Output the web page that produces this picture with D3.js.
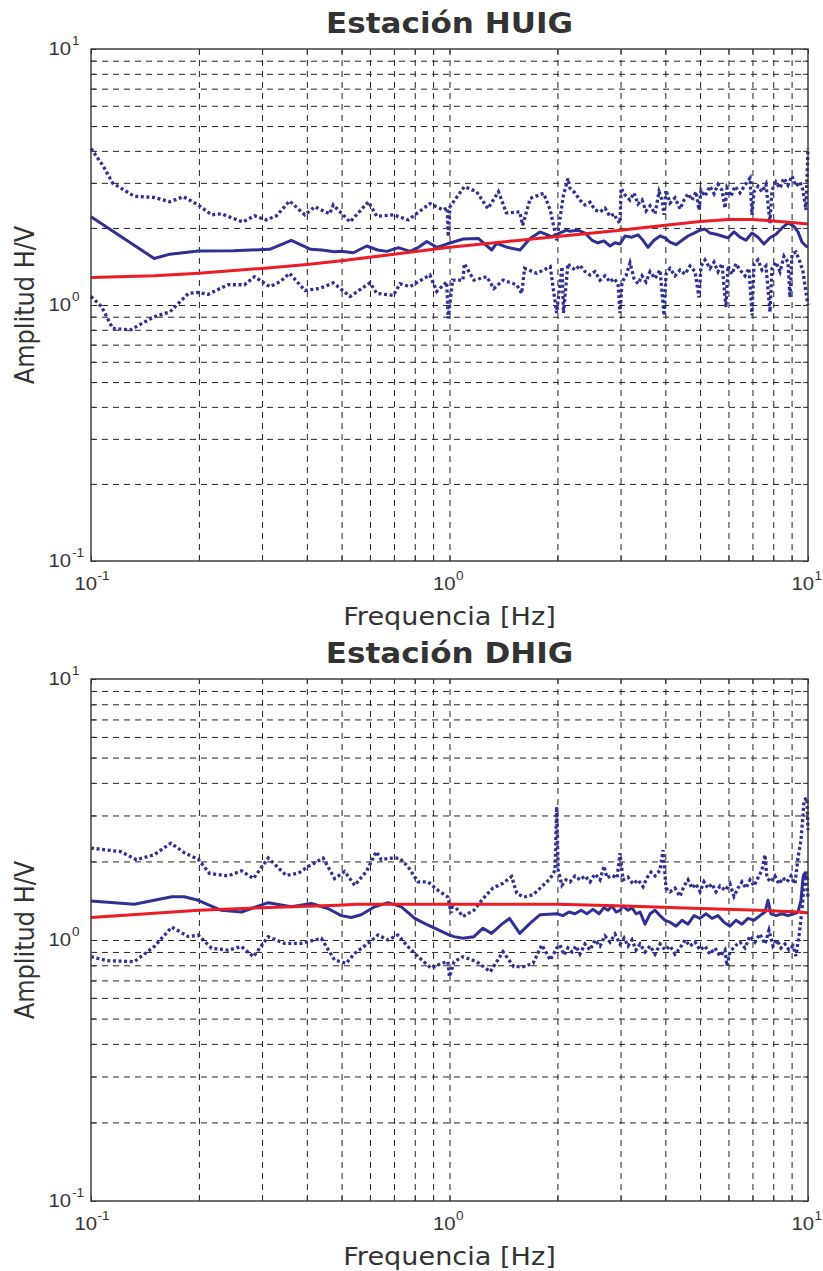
<!DOCTYPE html>
<html>
<head>
<meta charset="utf-8">
<script src="https://cdn.jsdelivr.net/npm/d3@7"></script>
<style>
  body { margin: 0; background: #fff; }
</style>
</head>
<body>
<svg id="chart" width="823" height="1271"></svg>
<script>
// ---- data: [frequency Hz, amplitude H/V] ----
const huigRef = [[0.1,1.28],[0.15,1.30],[0.2,1.33],[0.3,1.39],[0.4,1.44],[0.5,1.49],[0.7,1.58],[1,1.68],[1.5,1.78],[2,1.85],[3,1.96],[4,2.05],[5,2.12],[6,2.16],[7,2.16],[8,2.13],[9,2.10],[10,2.07]];

const huigMed = [[0.1,2.21],[0.15,1.52],[0.166,1.58],[0.199,1.625],[0.25,1.63],[0.315,1.65],[0.362,1.79],[0.41,1.65],[0.44,1.64],[0.478,1.615],[0.5,1.62],[0.539,1.60],[0.588,1.70],[0.63,1.64],[0.668,1.62],[0.72,1.675],[0.776,1.62],[0.82,1.68],[0.864,1.77],[0.921,1.68],[0.982,1.73],[1.093,1.81],[1.203,1.82],[1.311,1.64],[1.354,1.74],[1.45,1.68],[1.573,1.64],[1.677,1.82],[1.788,1.93],[1.928,1.85],[2.12,1.96],
  [2.168,1.94],[2.282,1.96],[2.387,1.91],[2.498,1.79],[2.596,1.75],[2.697,1.78],[2.804,1.70],[2.895,1.75],[2.99,1.73],[3.087,1.86],[3.229,1.84],[3.356,1.88],[3.466,1.79],[3.579,1.68],[3.72,1.79],[3.866,1.86],[3.992,1.83],[4.122,1.76],[4.284,1.72],[4.453,1.79],[4.628,1.86],[4.809,1.91],[4.997,1.96],[5.16,1.98],[5.329,1.91],[5.538,1.89],[5.755,1.86],[5.981,1.83],[6.217,1.93],[6.461,1.84],[6.714,1.79],[6.979,1.91],[7.253,1.84],[7.537,1.73],[7.834,1.83],[8.141,1.89],[8.461,2.0],[8.793,2.09],[9.139,2.03],[9.376,1.93],[9.622,1.76],[9.871,1.70],[10,1.68]];

const huigUp = [[0.1,4.09],[0.108,3.5],[0.115,2.99],[0.132,2.66],[0.15,2.63],[0.166,2.53],[0.181,2.65],[0.199,2.46],[0.217,2.25],[0.231,2.27],[0.265,2.11],[0.286,2.23],[0.308,2.15],[0.329,2.23],[0.358,2.55],[0.395,2.25],[0.421,2.42],[0.463,2.27],[0.474,2.46],[0.528,2.11],[0.594,2.53],[0.627,2.22],[0.697,2.25],[0.767,2.15],[0.882,2.49],[0.961,2.35],[0.985,2.4],[0.992,1.85],[1.003,2.42],[1.1,2.90],[1.19,2.77],[1.28,2.38],[1.37,2.77],[1.44,2.29],[1.57,2.31],[1.6,2.05],[1.68,2.61],[1.83,2.73],[1.91,2.35],[1.99,1.79],[2.08,2.69],[2.14,3.12],
  [2.168,2.86],[2.239,2.74],[2.312,2.57],[2.387,2.46],[2.466,2.52],[2.546,2.35],[2.629,2.31],[2.715,2.39],[2.804,2.22],[2.877,2.27],[2.933,2.15],[2.971,2.11],[2.99,2.09],[3.009,2.86],[3.087,2.69],[3.188,2.57],[3.271,2.74],[3.356,2.48],[3.444,2.57],[3.533,2.33],[3.626,2.44],[3.744,2.27],[3.842,2.77],[3.916,2.57],[3.967,2.25],[4.018,2.81],[4.122,2.50],[4.256,2.62],[4.396,2.37],[4.51,2.57],[4.628,2.72],[4.747,2.57],[4.871,2.77],[4.966,2.35],[5.029,2.81],[5.16,2.66],[5.329,2.91],[5.468,2.72],[5.61,2.96],[5.755,2.81],[5.867,2.39],[5.943,2.86],[6.098,2.66],[6.257,2.91],[6.461,2.74],[6.672,2.94],[6.89,3.13],[6.979,2.25],[7.069,2.77],[7.253,2.91],[7.441,2.77],[7.634,2.96],[7.834,2.09],[7.935,2.81],[8.141,3.02],[8.353,2.86],[8.57,3.13],[8.793,2.94],[9.022,3.19],[9.256,2.91],[9.499,3.02],[9.683,2.81],[9.871,2.35],[9.935,3.08],[10,4.09]];

const huigLo = [[0.1,1.08],[0.107,0.985],[0.115,0.81],[0.129,0.80],[0.15,0.90],[0.166,0.94],[0.187,1.11],[0.199,1.12],[0.212,1.10],[0.241,1.20],[0.268,1.20],[0.286,1.29],[0.315,1.18],[0.336,1.23],[0.358,1.33],[0.395,1.14],[0.434,1.16],[0.474,1.22],[0.528,1.08],[0.6,1.22],[0.627,1.11],[0.697,1.09],[0.728,1.21],[0.776,1.18],[0.882,1.31],[0.921,1.13],[0.982,1.23],[0.992,0.887],[1.02,1.25],[1.09,1.25],[1.1,1.45],[1.17,1.25],[1.27,1.29],[1.33,1.16],[1.41,1.25],[1.54,1.20],[1.59,1.11],[1.62,1.39],[1.75,1.33],[1.91,1.41],[1.99,0.93],[2.06,1.41],[2.08,0.93],[2.14,1.45],
  [2.168,1.42],[2.239,1.37],[2.312,1.43],[2.387,1.35],[2.466,1.31],[2.546,1.35],[2.629,1.25],[2.715,1.30],[2.804,1.23],[2.877,1.27],[2.952,1.21],[2.99,0.93],[3.029,1.23],[3.107,1.30],[3.188,1.46],[3.271,1.27],[3.356,1.21],[3.444,1.30],[3.533,1.23],[3.626,1.35],[3.744,1.27],[3.866,1.37],[3.967,0.91],[4.018,1.32],[4.122,1.39],[4.256,1.30],[4.396,1.37],[4.539,1.32],[4.687,1.42],[4.84,1.35],[4.966,1.07],[5.029,1.42],[5.16,1.50],[5.329,1.39],[5.468,1.47],[5.61,1.35],[5.755,1.45],[5.905,0.98],[5.981,1.42],[6.137,1.32],[6.297,1.45],[6.461,1.37],[6.672,1.30],[6.845,1.39],[6.979,0.91],[7.069,1.45],[7.253,1.50],[7.441,1.37],[7.634,1.42],[7.834,0.94],[7.935,1.39],[8.141,1.47],[8.353,1.35],[8.57,1.55],[8.793,1.47],[8.907,1.07],[9.022,1.58],[9.256,1.61],[9.499,1.47],[9.683,1.35],[9.871,1.12],[10,1.0]];

const dhigRef = [[0.1,1.22],[0.2,1.30],[0.3,1.33],[0.49,1.36],[0.55,1.37],[1,1.37],[2,1.37],[3.1,1.35],[5,1.32],[7.3,1.30],[9.5,1.28],[10,1.27]];

const dhigMed = [[0.1,1.41],[0.132,1.37],[0.168,1.465],[0.182,1.465],[0.199,1.42],[0.231,1.30],[0.263,1.28],[0.28,1.32],[0.312,1.39],[0.362,1.34],[0.412,1.38],[0.458,1.32],[0.499,1.24],[0.532,1.22],[0.567,1.25],[0.618,1.34],[0.674,1.39],[0.734,1.34],[0.8,1.21],[0.86,1.15],[0.909,1.11],[0.99,1.05],[1.03,1.03],[1.09,1.015],[1.17,1.03],[1.24,1.11],[1.31,1.06],[1.4,1.15],[1.47,1.21],[1.57,1.06],[1.68,1.16],[1.79,1.25],
  [1.994,1.26],[2.072,1.24],[2.154,1.28],[2.239,1.26],[2.327,1.30],[2.418,1.26],[2.514,1.31],[2.613,1.26],[2.697,1.33],[2.768,1.30],[2.84,1.35],[2.914,1.28],[2.99,1.30],[3.048,1.35],[3.148,1.30],[3.229,1.33],[3.313,1.26],[3.4,1.28],[3.511,1.15],[3.626,1.26],[3.744,1.30],[3.866,1.24],[3.992,1.19],[4.122,1.17],[4.284,1.13],[4.453,1.19],[4.628,1.15],[4.809,1.24],[4.997,1.21],[5.193,1.26],[5.398,1.21],[5.61,1.24],[5.83,1.17],[6.059,1.13],[6.297,1.19],[6.544,1.15],[6.801,1.21],[7.069,1.19],[7.346,1.24],[7.585,1.28],[7.733,1.42],[7.884,1.26],[8.141,1.24],[8.461,1.26],[8.793,1.24],[9.139,1.26],[9.376,1.28],[9.56,1.42],[9.683,1.73],[9.746,1.79],[9.935,1.73],[10,1.70]];

const dhigUp = [[0.1,2.25],[0.121,2.18],[0.134,2.03],[0.15,2.12],[0.167,2.35],[0.183,2.15],[0.199,2.04],[0.214,1.80],[0.241,1.76],[0.263,1.84],[0.284,1.72],[0.312,2.06],[0.35,1.77],[0.378,1.80],[0.403,1.91],[0.444,2.06],[0.478,1.72],[0.51,1.83],[0.544,1.62],[0.586,1.83],[0.625,2.18],[0.645,2.03],[0.688,2.06],[0.726,2.06],[0.766,1.91],[0.817,1.67],[0.871,1.67],[0.929,1.55],[0.99,1.46],[1.01,1.27],[1.02,1.38],[1.09,1.23],[1.17,1.30],[1.24,1.44],[1.32,1.58],[1.41,1.65],[1.49,1.75],[1.54,1.51],[1.61,1.46],[1.71,1.49],[1.79,1.58],[1.91,1.72],[1.97,1.85],[1.99,3.24],[2.01,1.85],
  [2.059,1.62],[2.113,1.70],[2.168,1.67],[2.239,1.76],[2.312,1.70],[2.387,1.76],[2.466,1.67],[2.546,1.79],[2.629,1.70],[2.697,1.92],[2.75,1.73],[2.84,1.77],[2.933,1.73],[2.99,2.15],[3.048,1.70],[3.148,1.74],[3.25,1.64],[3.356,1.70],[3.466,1.60],[3.556,1.73],[3.649,1.82],[3.744,1.76],[3.866,1.85],[3.941,2.21],[4.018,1.58],[4.122,1.53],[4.256,1.58],[4.396,1.47],[4.51,1.61],[4.628,1.70],[4.747,1.58],[4.871,1.64],[4.997,1.53],[5.127,1.67],[5.26,1.58],[5.398,1.64],[5.538,1.53],[5.682,1.61],[5.867,1.55],[6.059,1.64],[6.217,1.47],[6.378,1.58],[6.544,1.67],[6.714,1.58],[6.89,1.70],[7.069,1.61],[7.253,1.73],[7.441,1.85],[7.585,2.12],[7.683,1.73],[7.884,1.67],[8.089,1.76],[8.3,1.64],[8.515,1.73],[8.736,1.67],[8.964,1.76],[9.197,1.64],[9.376,2.06],[9.56,2.42],[9.683,3.01],[9.746,3.44],[9.935,3.50],[10,2.64]];

const dhigLo = [[0.1,0.863],[0.111,0.833],[0.132,0.826],[0.15,0.943],[0.168,1.12],[0.187,1.03],[0.199,1.045],[0.217,0.93],[0.241,0.915],[0.263,0.943],[0.284,0.863],[0.312,1.03],[0.347,0.97],[0.386,0.97],[0.439,1.015],[0.478,0.838],[0.515,0.814],[0.544,0.889],[0.592,0.97],[0.632,1.045],[0.674,1.0],[0.718,1.045],[0.766,0.943],[0.817,0.863],[0.89,0.779],[0.949,0.814],[0.99,0.826],[1.0,0.723],[1.03,0.826],[1.09,0.863],[1.19,0.826],[1.3,0.756],[1.41,0.902],[1.51,0.79],[1.61,0.79],[1.71,0.814],[1.81,0.957],[1.91,0.838],[1.99,0.929],
  [2.033,0.957],[2.086,0.876],[2.14,0.932],[2.196,0.90],[2.253,0.948],[2.312,0.883],[2.387,0.965],[2.466,0.916],[2.546,1.0],[2.629,0.948],[2.715,1.036],[2.804,0.982],[2.895,1.054],[2.99,0.965],[3.068,1.018],[3.148,0.948],[3.229,1.0],[3.313,0.916],[3.4,0.965],[3.511,0.90],[3.626,0.948],[3.744,0.883],[3.866,0.965],[3.992,0.916],[4.122,0.948],[4.256,0.883],[4.396,0.932],[4.539,1.0],[4.687,0.948],[4.84,0.982],[4.997,0.916],[5.16,0.948],[5.329,0.883],[5.503,0.932],[5.682,0.868],[5.867,0.916],[5.943,0.795],[6.059,0.90],[6.257,0.948],[6.461,0.982],[6.672,0.932],[6.89,1.036],[7.115,0.982],[7.346,1.054],[7.585,0.965],[7.783,1.09],[7.986,0.948],[8.194,1.0],[8.407,0.932],[8.625,0.965],[8.85,0.916],[9.08,0.948],[9.256,0.868],[9.437,1.036],[9.622,1.30],[9.746,1.62],[9.871,1.85],[10,1.45]];

const majorTicks = [0.1, 1, 10];
const tickExp = ['-1', '0', '1'];
const titles = ['Estación HUIG', 'Estación DHIG'];
const xLabel = 'Frequencia [Hz]';
const yLabel = 'Amplitud H/V';

// ---- layout ----
const svg = d3.select('#chart');
const LEFT = 91, RIGHT = 808;
const INK = '#333';
const BLUE = '#2e3192';
const RED = '#ed1c24';
const SX = 1.13; // the figure is a bit stretched sideways

// 1..9 per decade, for the grid and the little inner ticks
const minorTicks = [];
for (let e = -1; e < 1; e++) {
  for (let m = 1; m < 10; m++) minorTicks.push(+(m * Math.pow(10, e)).toPrecision(3));
}
minorTicks.push(10);

function stretchedText(g, x, y, str, size, anchor, weight, family) {
  return g.append('text')
    .attr('transform', `translate(${x},${y}) scale(${SX},1)`)
    .attr('text-anchor', anchor)
    .attr('font-family', family)
    .attr('font-size', size)
    .attr('font-weight', weight || 'normal')
    .attr('fill', INK)
    .text(str);
}

function drawPanel(p) {
  const x = d3.scaleLog().domain([0.1, 10]).range([LEFT, RIGHT]);
  const y = d3.scaleLog().domain([0.1, 10]).range([p.bottom, p.top]);
  const h = p.bottom - p.top, w = RIGHT - LEFT;
  const g = svg.append('g');
  const inner = minorTicks.filter(v => v > 0.1 && v < 10);

  // dashed grid
  const gx = g.append('g')
    .attr('transform', `translate(0,${p.bottom})`)
    .call(d3.axisBottom(x).tickValues(inner).tickSize(-h).tickFormat(''));
  const gy = g.append('g')
    .attr('transform', `translate(${LEFT},0)`)
    .call(d3.axisLeft(y).tickValues(inner).tickSize(-w).tickFormat(''));
  [gx, gy].forEach(a => {
    a.select('.domain').remove();
    a.selectAll('line')
      .attr('stroke', '#222')
      .attr('stroke-width', 1)
      .attr('stroke-dasharray', '6,5');
  });

  // small inner ticks on all four sides
  const sides = [
    [d3.axisBottom(x), `translate(0,${p.bottom})`],
    [d3.axisTop(x), `translate(0,${p.top})`],
    [d3.axisLeft(y), `translate(${LEFT},0)`],
    [d3.axisRight(y), `translate(${RIGHT},0)`]
  ];
  sides.forEach(([ax, tr]) => {
    const a = g.append('g').attr('transform', tr)
      .call(ax.tickValues(minorTicks).tickSize(-5).tickFormat(''));
    a.select('.domain').remove();
    a.selectAll('line').attr('stroke', INK).attr('stroke-width', 1);
  });

  // curves
  const line = d3.line().x(d => x(d[0])).y(d => y(d[1]));
  [p.up, p.lo].forEach(s => {
    g.append('path').datum(s)
      .attr('d', line)
      .attr('fill', 'none')
      .attr('stroke', BLUE)
      .attr('stroke-width', 3.3)
      .attr('stroke-dasharray', '3,2.6');
  });
  g.append('path').datum(p.med)
    .attr('d', line)
    .attr('fill', 'none')
    .attr('stroke', BLUE)
    .attr('stroke-width', 3)
    .attr('stroke-linejoin', 'round');
  g.append('path').datum(p.ref)
    .attr('d', line)
    .attr('fill', 'none')
    .attr('stroke', RED)
    .attr('stroke-width', 3)
    .attr('stroke-linejoin', 'round');

  // box
  g.append('rect')
    .attr('x', LEFT).attr('y', p.top)
    .attr('width', w).attr('height', h)
    .attr('fill', 'none')
    .attr('stroke', INK)
    .attr('stroke-width', 1.4);

  // tick labels: 10 with superscript exponent
  const tickFont = '"Liberation Sans", Arial, sans-serif';
  majorTicks.forEach((v, i) => {
    const tx = x(v);
    stretchedText(g, tx + 6, p.bottom + 29, '10', 18, 'end', 'normal', tickFont);
    stretchedText(g, tx + 6.5, p.bottom + 19, tickExp[i], 12, 'start', 'normal', tickFont);
    const ty = y(v);
    stretchedText(g, 71, ty + 6, '10', 18, 'end', 'normal', tickFont);
    stretchedText(g, 72, ty - 4, tickExp[i], 12, 'start', 'normal', tickFont);
  });

  // titles and axis labels
  const labelFont = '"DejaVu Sans", Verdana, sans-serif';
  stretchedText(g, (LEFT + RIGHT) / 2, p.top - 16, p.title, 27.5, 'middle', 'bold', labelFont);
  stretchedText(g, (LEFT + RIGHT) / 2, p.bottom + 64, xLabel, 24, 'middle', 'normal', labelFont);
  g.append('text')
    .attr('transform', `translate(34,${(p.top + p.bottom) / 2}) rotate(-90) scale(1,${SX})`)
    .attr('text-anchor', 'middle')
    .attr('font-family', labelFont)
    .attr('font-size', 24)
    .attr('fill', INK)
    .text(yLabel);
}

svg.append('rect').attr('width', 823).attr('height', 1271).attr('fill', '#fff');

drawPanel({ top: 49, bottom: 561, title: titles[0], ref: huigRef, med: huigMed, up: huigUp, lo: huigLo });
drawPanel({ top: 679, bottom: 1201, title: titles[1], ref: dhigRef, med: dhigMed, up: dhigUp, lo: dhigLo });
</script>
</body>
</html>
